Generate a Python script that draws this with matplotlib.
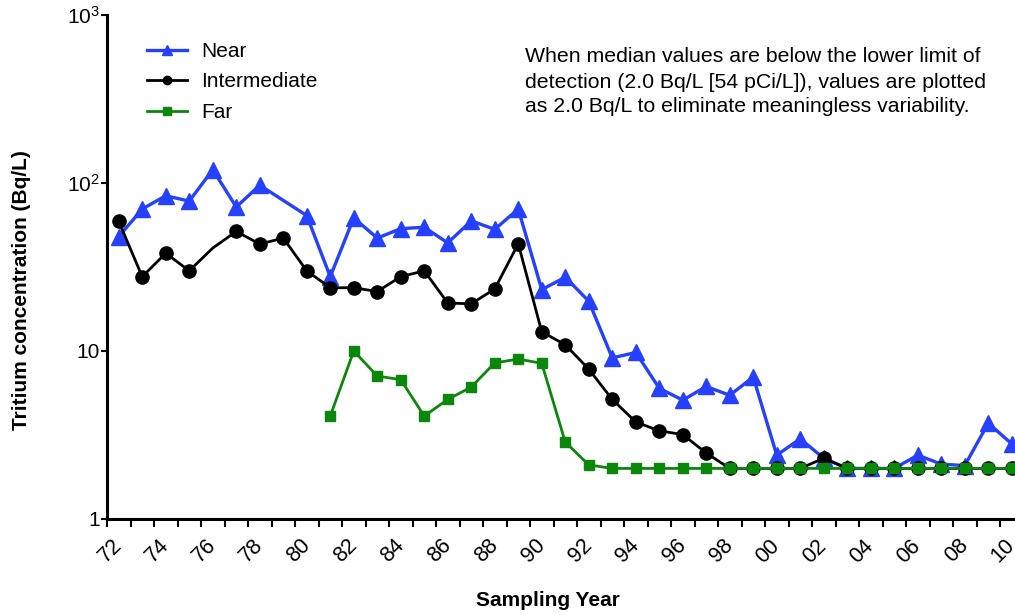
import matplotlib
matplotlib.use("Agg")
import matplotlib.pyplot as plt
from matplotlib.lines import Line2D
from matplotlib.ticker import FixedLocator, FixedFormatter, NullLocator
import numpy as np

plt.rcParams['font.family'] = ['Liberation Sans', 'DejaVu Sans']

# ---------------- data ----------------
near_years = [1972, 1973, 1974, 1975, 1976, 1977, 1978,
              1980, 1981, 1982, 1983, 1984, 1985, 1986, 1987, 1988, 1989,
              1990, 1991, 1992, 1993, 1994, 1995, 1996, 1997, 1998, 1999,
              2000, 2001, 2002, 2003, 2004, 2005, 2006, 2007, 2008, 2009, 2010]
near = [48, 70, 84, 78, 120, 72, 97,
        64, 27.7, 62, 47, 53.5, 54.5, 44, 59.5, 53, 70,
        23.2, 27.5, 19.8, 9.1, 9.8, 6.0, 5.1, 6.15, 5.45, 7.0,
        2.4, 3.0, 2.3, 2.0, 2.0, 2.0, 2.4, 2.12, 2.08, 3.72, 2.8]

int_years = list(range(1972, 2011))
intermediate = [59, 27.7, 38.2, 30, 41, 51.5, 43.3, 47, 30, 23.8, 23.8, 22.6, 27.7,
                30, 19.3, 19.1, 23.4, 43.5, 13, 10.9, 7.8, 5.15, 3.78, 3.35, 3.18, 2.47,
                2.0, 2.0, 2.0, 2.0, 2.3, 2.0, 2.0, 2.0, 2.0, 2.0, 2.0, 2.0, 2.0]

far_years = list(range(1981, 2011))
far = [4.1, 10.0, 7.1, 6.75, 4.1, 5.15, 6.1, 8.5, 8.95, 8.45, 2.87, 2.1,
       2.0, 2.0, 2.0, 2.0, 2.0, 2.0, 2.0, 2.0, 2.0, 2.0, 2.0, 2.0, 2.0, 2.0,
       2.0, 2.0, 2.0, 2.0]

label_years = list(range(1972, 2011, 2))
ytick_vals = [1, 10, 100, 1000]
ytick_labels = ['1', '10', r'$\mathregular{10^2}$', r'$\mathregular{10^3}$']

note = ("When median values are below the lower limit of\n"
        "detection (2.0 Bq/L [54 pCi/L]), values are plotted\n"
        "as 2.0 Bq/L to eliminate meaningless variability.")

BLUE = '#2540ff'
BLACK = '#000000'
GREEN = '#0b870b'

# ---------------- figure ----------------
W, H = 1015, 615
fig = plt.figure(figsize=(W / 100, H / 100), dpi=100)
left_px, bottom_px, top_px = 107, 519, 15
x0, x1 = 1971.5, 2010.5
px_per_year = 23.5
right_px = left_px + (x1 - x0) * px_per_year
ax = fig.add_axes([left_px / W, (H - bottom_px) / H,
                   (right_px - left_px) / W, (bottom_px - top_px) / H])

ax.plot(near_years, near, color=BLUE, lw=2.4, marker='^', ms=11,
        mec=BLUE, mfc=BLUE, zorder=3, clip_on=False)
int_marks = [i for i, y in enumerate(int_years) if y != 1976]
ax.plot(int_years, intermediate, color=BLACK, lw=2.0, marker='o', ms=9.5,
        markevery=int_marks, zorder=4, clip_on=False)
ax.plot(far_years, far, color=GREEN, lw=2.0, marker='s', ms=7.5,
        zorder=5, clip_on=False)

ax.set_yscale('log')
ax.set_ylim(1, 1000)
ax.set_xlim(x0, x1)

ax.yaxis.set_major_locator(FixedLocator(ytick_vals))
ax.yaxis.set_major_formatter(FixedFormatter(ytick_labels))
ax.yaxis.set_minor_locator(NullLocator())
ax.tick_params(axis='y', which='major', direction='out', length=4, width=1.5,
               pad=1, labelsize=15)

ax.xaxis.set_major_locator(FixedLocator(label_years))
ax.set_xticklabels([f"{y % 100:02d}" for y in label_years])
ax.xaxis.set_minor_locator(FixedLocator(np.arange(x0, x1 + 0.01, 1.0)))
ax.tick_params(axis='x', which='major', length=0, pad=17, labelsize=15.5)
ax.tick_params(axis='x', which='minor', direction='out', length=6, width=1.5)
for lab in ax.get_xticklabels():
    lab.set_rotation(45)
    lab.set_rotation_mode('anchor')
    lab.set_ha('right')
    lab.set_va('center')

for s in ['top', 'right']:
    ax.spines[s].set_visible(False)
for s in ['left', 'bottom']:
    ax.spines[s].set_linewidth(2.2)

fig.text(548 / W, 1 - 600 / H, 'Sampling Year', ha='center', va='center',
         fontsize=15, fontweight='bold')
fig.text(22 / W, 1 - 290 / H, 'Tritium concentration (Bq/L)', ha='center',
         va='center', rotation=90, fontsize=15, fontweight='bold')

handles = [Line2D([], [], color=BLUE, lw=2.4, marker='^', ms=7),
           Line2D([], [], color=BLACK, lw=2.0, marker='o', ms=6),
           Line2D([], [], color=GREEN, lw=2.0, marker='s', ms=6)]
fig.legend(handles, ['Near', 'Intermediate', 'Far'], loc='upper left',
           bbox_to_anchor=(147 / W, 1 - 42 / H), frameon=False, fontsize=15,
           handlelength=1.9, handletextpad=0.7, labelspacing=0.55,
           borderpad=0, borderaxespad=0)

fig.text(525 / W, 1 - 47.5 / H, note, ha='left', va='top', fontsize=15.3,
         linespacing=1.4)

fig.savefig('out.png', dpi=100)
